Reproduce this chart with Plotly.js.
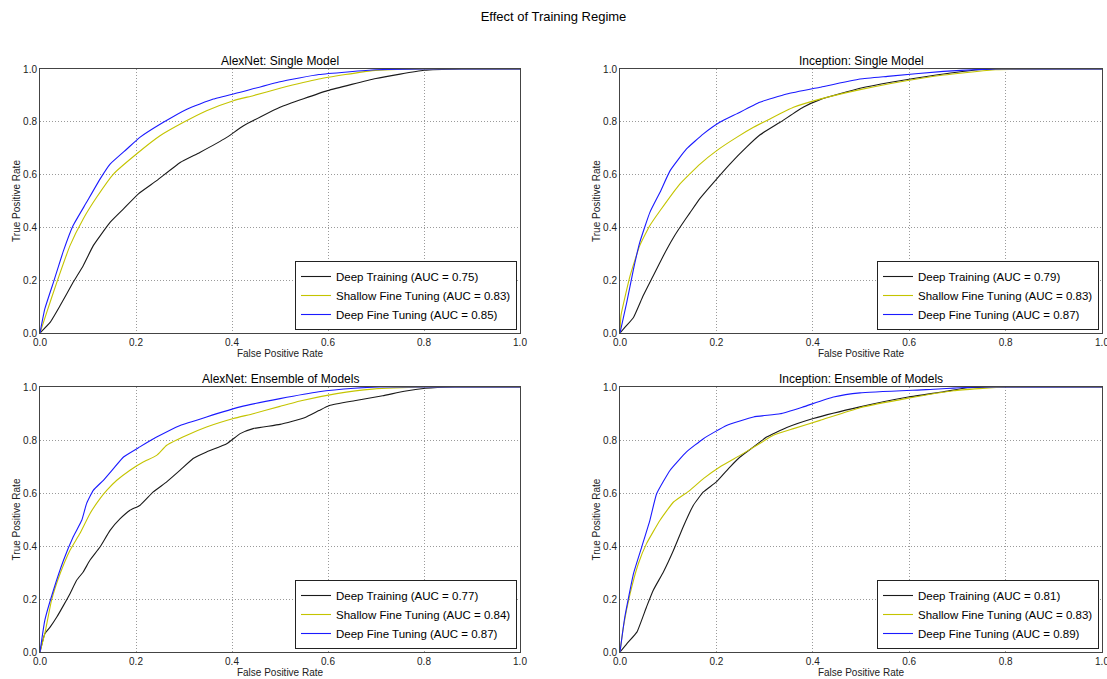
<!DOCTYPE html>
<html>
<head>
<meta charset="utf-8">
<script src="https://cdn.plot.ly/plotly-3.0.1.min.js"></script>
<style>
  html, body { margin: 0; padding: 0; background: #fff; }
  #chart { width: 1107px; height: 679px; }
</style>
</head>
<body>
<div id="chart"></div>
<script>
// ROC curves for three training regimes, two networks, single model vs. ensemble
const panelTitles = [
  "AlexNet: Single Model",
  "Inception: Single Model",
  "AlexNet: Ensemble of Models",
  "Inception: Ensemble of Models"
];
const seriesNames = ["Deep Training", "Shallow Fine Tuning", "Deep Fine Tuning"];
const seriesColors = ["#1a1a1a", "#c4c400", "#1a1aff"];
const aucValues = [
  [0.75, 0.83, 0.85],
  [0.79, 0.83, 0.87],
  [0.77, 0.84, 0.87],
  [0.81, 0.83, 0.89]
];
const tickValues = [0, 0.2, 0.4, 0.6, 0.8, 1.0];

// AlexNet, single model
const alexSingleDeepTrainFpr = [0, 0.021, 0.042, 0.069, 0.09, 0.111, 0.146, 0.174, 0.205, 0.243, 0.292, 0.333, 0.389, 0.424, 0.5, 0.599, 0.70, 0.80, 0.878, 1.0];
const alexSingleDeepTrainTpr = [0, 0.04, 0.104, 0.192, 0.255, 0.331, 0.419, 0.47, 0.527, 0.577, 0.646, 0.684, 0.741, 0.785, 0.855, 0.918, 0.964, 0.995, 1.0, 1.0];
const alexSingleShallowFpr = [0, 0.014, 0.035, 0.0625, 0.09, 0.118, 0.153, 0.201, 0.25, 0.299, 0.347, 0.403, 0.444, 0.5, 0.581, 0.692, 0.803, 1.0];
const alexSingleShallowTpr = [0, 0.078, 0.192, 0.331, 0.432, 0.514, 0.602, 0.678, 0.747, 0.798, 0.842, 0.88, 0.899, 0.927, 0.962, 0.994, 1.0, 1.0];
const alexSingleDeepFtFpr = [0, 0.01, 0.028, 0.049, 0.069, 0.097, 0.125, 0.146, 0.181, 0.208, 0.257, 0.306, 0.361, 0.417, 0.5, 0.581, 0.70, 0.803, 1.0];
const alexSingleDeepFtTpr = [0, 0.091, 0.192, 0.312, 0.407, 0.495, 0.583, 0.64, 0.697, 0.741, 0.798, 0.848, 0.886, 0.912, 0.952, 0.979, 0.997, 1.0, 1.0];

// Inception, single model
const incSingleDeepTrainFpr = [0, 0.01, 0.028, 0.048, 0.069, 0.09, 0.111, 0.128, 0.145, 0.166, 0.194, 0.228, 0.263, 0.29, 0.332, 0.38, 0.415, 0.498, 0.562, 0.656, 0.743, 0.80, 1.0];
const incSingleDeepTrainTpr = [0, 0.021, 0.059, 0.141, 0.217, 0.293, 0.362, 0.41, 0.455, 0.51, 0.57, 0.64, 0.705, 0.75, 0.798, 0.855, 0.884, 0.927, 0.95, 0.977, 0.997, 1.0, 1.0];
const incSingleShallowFpr = [0, 0.002, 0.021, 0.041, 0.062, 0.083, 0.124, 0.166, 0.2, 0.242, 0.277, 0.311, 0.36, 0.415, 0.498, 0.562, 0.671, 0.779, 0.873, 1.0];
const incSingleShallowTpr = [0, 0.066, 0.217, 0.331, 0.407, 0.463, 0.564, 0.64, 0.69, 0.741, 0.779, 0.811, 0.855, 0.886, 0.922, 0.945, 0.977, 0.997, 1.0, 1.0];
const incSingleDeepFtFpr = [0, 0.014, 0.028, 0.041, 0.062, 0.083, 0.104, 0.138, 0.173, 0.207, 0.242, 0.29, 0.346, 0.415, 0.498, 0.555, 0.671, 0.779, 1.0];
const incSingleDeepFtTpr = [0, 0.116, 0.242, 0.343, 0.457, 0.533, 0.615, 0.697, 0.754, 0.798, 0.83, 0.874, 0.905, 0.931, 0.962, 0.972, 0.991, 1.0, 1.0];

// AlexNet, ensemble of models
const alexEnsDeepTrainFpr = [0, 0.01, 0.021, 0.035, 0.049, 0.0625, 0.076, 0.09, 0.104, 0.125, 0.146, 0.167, 0.1875, 0.208, 0.236, 0.264, 0.292, 0.319, 0.347, 0.389, 0.417, 0.444, 0.5, 0.551, 0.581, 0.603, 0.655, 0.714, 0.759, 0.803, 0.863, 1.0];
const alexEnsDeepTrainTpr = [0, 0.069, 0.094, 0.132, 0.176, 0.22, 0.27, 0.302, 0.346, 0.396, 0.459, 0.503, 0.535, 0.553, 0.604, 0.642, 0.686, 0.73, 0.755, 0.786, 0.824, 0.843, 0.859, 0.884, 0.911, 0.93, 0.948, 0.967, 0.984, 0.995, 1.0, 1.0];
const alexEnsShallowFpr = [0, 0.01, 0.024, 0.042, 0.0625, 0.083, 0.104, 0.125, 0.139, 0.16, 0.1875, 0.215, 0.243, 0.264, 0.306, 0.347, 0.403, 0.444, 0.5, 0.544, 0.618, 0.692, 0.803, 1.0];
const alexEnsShallowTpr = [0, 0.069, 0.195, 0.296, 0.384, 0.447, 0.522, 0.579, 0.61, 0.648, 0.686, 0.717, 0.742, 0.78, 0.818, 0.849, 0.881, 0.899, 0.927, 0.948, 0.975, 0.992, 1.0, 1.0];
const alexEnsDeepFtFpr = [0, 0.01, 0.028, 0.049, 0.069, 0.087, 0.097, 0.111, 0.132, 0.153, 0.174, 0.208, 0.243, 0.292, 0.347, 0.417, 0.5, 0.581, 0.655, 0.707, 1.0];
const alexEnsDeepFtTpr = [0, 0.119, 0.233, 0.346, 0.434, 0.497, 0.56, 0.61, 0.648, 0.692, 0.736, 0.774, 0.811, 0.855, 0.887, 0.925, 0.956, 0.982, 0.995, 1.0, 1.0];

// Inception, ensemble of models
const incEnsDeepTrainFpr = [0, 0.014, 0.035, 0.055, 0.069, 0.09, 0.111, 0.131, 0.152, 0.173, 0.2, 0.228, 0.249, 0.277, 0.304, 0.346, 0.401, 0.498, 0.598, 0.671, 0.721, 0.779, 1.0];
const incEnsDeepTrainTpr = [0, 0.031, 0.075, 0.17, 0.233, 0.302, 0.384, 0.472, 0.553, 0.604, 0.642, 0.698, 0.736, 0.774, 0.811, 0.847, 0.881, 0.925, 0.962, 0.982, 0.997, 1.0, 1.0];
const incEnsShallowFpr = [0, 0.007, 0.021, 0.038, 0.055, 0.083, 0.111, 0.145, 0.173, 0.207, 0.249, 0.284, 0.318, 0.36, 0.415, 0.498, 0.598, 0.692, 0.801, 1.0];
const incEnsShallowTpr = [0, 0.094, 0.22, 0.333, 0.409, 0.497, 0.566, 0.61, 0.654, 0.698, 0.742, 0.78, 0.818, 0.843, 0.874, 0.922, 0.958, 0.986, 1.0, 1.0];
const incEnsDeepFtFpr = [0, 0.01, 0.028, 0.045, 0.062, 0.076, 0.104, 0.138, 0.173, 0.221, 0.277, 0.332, 0.38, 0.443, 0.498, 0.635, 0.743, 1.0];
const incEnsDeepFtTpr = [0, 0.132, 0.296, 0.396, 0.497, 0.597, 0.686, 0.755, 0.805, 0.855, 0.887, 0.899, 0.925, 0.962, 0.978, 0.99, 1.0, 1.0];

const panelCurves = [
  [[alexSingleDeepTrainFpr, alexSingleDeepTrainTpr], [alexSingleShallowFpr, alexSingleShallowTpr], [alexSingleDeepFtFpr, alexSingleDeepFtTpr]],
  [[incSingleDeepTrainFpr, incSingleDeepTrainTpr], [incSingleShallowFpr, incSingleShallowTpr], [incSingleDeepFtFpr, incSingleDeepFtTpr]],
  [[alexEnsDeepTrainFpr, alexEnsDeepTrainTpr], [alexEnsShallowFpr, alexEnsShallowTpr], [alexEnsDeepFtFpr, alexEnsDeepFtTpr]],
  [[incEnsDeepTrainFpr, incEnsDeepTrainTpr], [incEnsShallowFpr, incEnsShallowTpr], [incEnsDeepFtFpr, incEnsDeepFtTpr]]
];

const W = 1107, H = 679;
const FONT = "Liberation Sans, Arial, sans-serif";
// panel boxes in pixels: [left, right, top, bottom]
const boxes = [
  [40, 520, 69, 333],
  [620, 1102, 69, 333],
  [40, 520, 387, 652],
  [620, 1102, 387, 652]
];

const traces = [];
const layout = {
  width: W, height: H,
  margin: {l: 0, r: 0, t: 0, b: 0},
  paper_bgcolor: "#ffffff",
  plot_bgcolor: "#ffffff",
  font: {family: FONT, color: "#000", size: 10},
  showlegend: true,
  annotations: [],
  title: {text: "Effect of Training Regime", x: 0.5, xanchor: "center", y: 1 - 16 / H, yanchor: "middle",
          font: {size: 13, family: FONT, color: "#000"}}
};

boxes.forEach((b, p) => {
  const n = p + 1;
  const sfx = n === 1 ? "" : String(n);
  const lg = "legend" + sfx;
  const axisCommon = {
    range: [0, 1],
    tickvals: tickValues,
    tickformat: ".1f",
    showline: true, mirror: true, linecolor: "#444", linewidth: 1,
    showgrid: true, gridcolor: "#9a9a9a", griddash: "1px,2px", gridwidth: 1,
    zeroline: false,
    ticks: "",
    ticklabeloverflow: "allow",
    tickfont: {size: 10, family: FONT, color: "#222"},
    fixedrange: true
  };
  layout["xaxis" + sfx] = Object.assign({}, axisCommon, {
    domain: [b[0] / W, b[1] / W],
    anchor: "y" + sfx,
    title: {text: "False Positive Rate", font: {size: 10, family: FONT, color: "#222"}, standoff: 2}
  });
  layout["yaxis" + sfx] = Object.assign({}, axisCommon, {
    domain: [1 - b[3] / H, 1 - b[2] / H],
    anchor: "x" + sfx,
    title: {text: "True Positive Rate", font: {size: 10, family: FONT, color: "#222"}, standoff: 0}
  });
  layout[lg] = {
    x: (b[1] - 3) / W, xanchor: "right", xref: "paper",
    y: 1 - (b[3] - 3) / H, yanchor: "bottom", yref: "paper",
    bgcolor: "#ffffff", bordercolor: "#222", borderwidth: 1,
    font: {size: 11.5, family: FONT, color: "#000"},
    tracegroupgap: 0, itemwidth: 30
  };
  layout.annotations.push({
    text: panelTitles[p], xref: "paper", yref: "paper",
    x: (b[0] + b[1]) / 2 / W, y: 1 - (b[2] - 8) / H,
    xanchor: "center", yanchor: "middle", showarrow: false,
    font: {size: 12, family: FONT, color: "#000"}
  });
  panelCurves[p].forEach((c, s) => {
    traces.push({
      type: "scatter", mode: "lines",
      x: c[0], y: c[1],
      xaxis: "x" + sfx, yaxis: "y" + sfx,
      legend: lg,
      name: seriesNames[s] + " (AUC = " + aucValues[p][s].toFixed(2) + ")",
      line: {color: seriesColors[s], width: 1.1, shape: "spline", smoothing: 0.4},
      hoverinfo: "skip"
    });
  });
});

Plotly.newPlot("chart", traces, layout, {staticPlot: true, displayModeBar: false});
</script>
</body>
</html>
